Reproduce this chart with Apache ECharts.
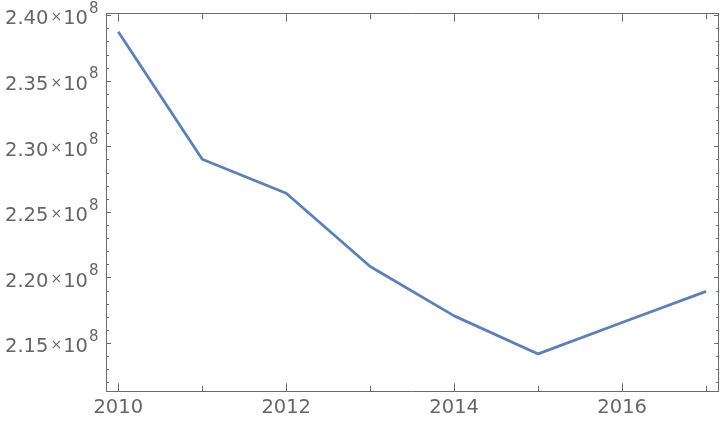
<!DOCTYPE html>
<html>
<head>
<meta charset="utf-8">
<script src="https://cdn.jsdelivr.net/npm/echarts@6/dist/echarts.min.js"></script>
<style>html,body{margin:0;padding:0;background:#fff}#c{width:720px;height:422px}</style>
</head>
<body>
<div id="c"></div>
<script>
const years = [2010, 2011, 2012, 2013, 2014, 2015, 2016, 2017];
const values = [2.3876e8, 2.2903e8, 2.2644e8, 2.2085e8, 2.1709e8, 2.1419e8, 2.1659e8, 2.1896e8];
const xMajorTicks = [2010, 2012, 2014, 2016];
const xMinorTicks = [2011, 2013, 2015, 2017];
const yMajorTicks = [2.15e8, 2.20e8, 2.25e8, 2.30e8, 2.35e8, 2.40e8];
const yMinorTicks = [2.12e8, 2.13e8, 2.14e8, 2.16e8, 2.17e8, 2.18e8, 2.19e8, 2.21e8, 2.22e8, 2.23e8, 2.24e8, 2.26e8, 2.27e8, 2.28e8, 2.29e8, 2.31e8, 2.32e8, 2.33e8, 2.34e8, 2.36e8, 2.37e8, 2.38e8, 2.39e8];

const X_MIN = 2009.86, X_MAX = 2017.15;
const Y_MIN = 2.1134e8, Y_MAX = 2.4013e8;
const frameColor = '#6b6b6b';
const textColor = '#666666';
const font = 'DejaVu Sans';

function xAxisDef(pos, ticks, len, withLabel, showLine) {
  return {
    type: 'value', position: pos, min: X_MIN, max: X_MAX,
    splitLine: {show: false},
    axisLine: {show: showLine, lineStyle: {color: frameColor, width: 1}},
    axisTick: {show: true, inside: true, length: len, customValues: ticks, lineStyle: {color: frameColor, width: 1}},
    axisLabel: withLabel ? {show: true, customValues: ticks, color: textColor, fontFamily: font, fontSize: 19.5, margin: 7, formatter: v => String(Math.round(v))} : {show: false}
  };
}
function yAxisDef(pos, ticks, len, withLabel, showLine) {
  return {
    type: 'value', position: pos, min: Y_MIN, max: Y_MAX,
    splitLine: {show: false},
    axisLine: {show: showLine, lineStyle: {color: frameColor, width: 1}},
    axisTick: {show: true, inside: true, length: len, customValues: ticks, lineStyle: {color: frameColor, width: 1}},
    axisLabel: withLabel ? {
      show: true, customValues: ticks, margin: 8,
      formatter: v => '{m|' + (v / 1e8).toFixed(2) + '}{t|×}{m|10}{s|8}',
      rich: {
        m: {color: textColor, fontFamily: font, fontSize: 19.5, lineHeight: 20, verticalAlign: 'bottom'},
        t: {color: textColor, fontFamily: font, fontSize: 14, lineHeight: 20, verticalAlign: 'bottom', padding: [0, 1, 5, 2]},
        s: {color: textColor, fontFamily: font, fontSize: 15, lineHeight: 28, verticalAlign: 'top', padding: [0, 0, 0, 1]}
      }
    } : {show: false}
  };
}

const chart = echarts.init(document.getElementById('c'), null, {renderer: 'canvas'});
chart.setOption({
  animation: false,
  backgroundColor: '#ffffff',
  grid: {left: 106.5, top: 13.7, right: 1.3, bottom: 30.7, containLabel: false},
  xAxis: [
    xAxisDef('bottom', xMajorTicks, 8, true, true),
    xAxisDef('bottom', xMinorTicks, 5.5, false, false),
    xAxisDef('top', xMajorTicks, 8, false, true),
    xAxisDef('top', xMinorTicks, 5.5, false, false)
  ],
  yAxis: [
    yAxisDef('left', yMajorTicks, 4.5, true, true),
    yAxisDef('left', yMinorTicks, 2.5, false, false),
    yAxisDef('right', yMajorTicks, 4.5, false, true),
    yAxisDef('right', yMinorTicks, 2.5, false, false)
  ],
  series: [{
    type: 'line', xAxisIndex: 0, yAxisIndex: 0,
    data: years.map((y, i) => [y, values[i]]),
    symbol: 'none', lineStyle: {color: '#5E81B5', width: 2.8}
  }]
});
</script>
</body>
</html>
